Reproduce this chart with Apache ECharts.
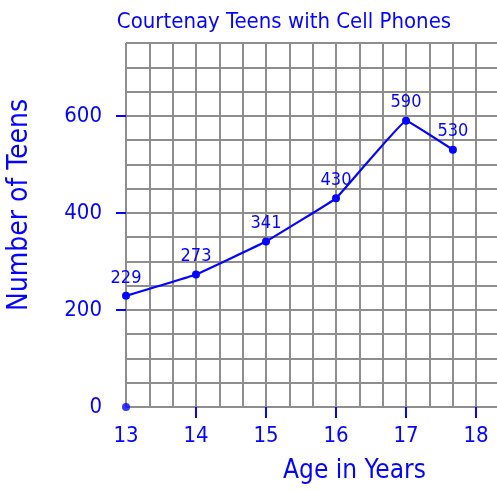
<!DOCTYPE html>
<html><head><meta charset="utf-8">
<script src="https://cdn.jsdelivr.net/npm/echarts@6/dist/echarts.min.js"></script>
<style>html,body{margin:0;padding:0;background:#fff}#c{width:497px;height:490px}</style>
</head><body><div id="c"></div>
<script>
const ages = [13, 14, 15, 16, 17, 17.67];
const teens = [229, 273, 341, 430, 590, 530];
const originPoint = [[13, 0]];
const xTickLabels = [13, 14, 15, 16, 17, 18];
const yTickLabels = [0, 200, 400, 600];

const BLUE = '#0505ff';
const GRIDC = '#8e8e8e';
const FONT = '"Liberation Sans Narrow", "DejaVu Sans Condensed", "DejaVu Sans"';
const XMAX = 18.3;
const chart = echarts.init(document.getElementById('c'));
chart.setOption({
  animation: false,
  backgroundColor: '#fff',
  title: {
    text: 'Courtenay Teens with Cell Phones',
    left: 279, top: 6, textAlign: 'center',
    textStyle: { color: BLUE, fontFamily: FONT, fontWeight: 'normal', fontSize: 22 }
  },
  grid: { left: 126, top: 43, right: 0, bottom: 83, containLabel: false, show: false,
    outerBoundsMode: 'none' },
  xAxis: [{
    type: 'value', min: 13, max: XMAX, interval: 1,
    name: 'Age in Years', nameLocation: 'middle', nameGap: 51,
    nameTextStyle: { color: BLUE, fontFamily: FONT, fontSize: 26, padding: [0, 0, 0, 86] },
    axisLine: { show: false },
    axisTick: { show: true, customValues: xTickLabels.slice(1), length: 11,
      lineStyle: { color: BLUE, width: 2 } },
    axisLabel: { customValues: xTickLabels, margin: 18, color: BLUE, fontFamily: FONT, fontSize: 22 },
    splitLine: { show: false }
  }, {
    type: 'value', min: 13, max: XMAX, interval: 1 / 3, position: 'bottom',
    axisLine: { show: false }, axisTick: { show: false }, axisLabel: { show: false },
    splitLine: { show: true, showMinLine: true, showMaxLine: false, lineStyle: { color: GRIDC, width: 2 } }
  }],
  yAxis: [{
    type: 'value', min: 0, max: 750, interval: 50,
    name: 'Number of Teens', nameLocation: 'middle', nameGap: 92, nameRotate: 90,
    nameTextStyle: { color: BLUE, fontFamily: FONT, fontSize: 28, padding: [0, 0, 0, 40] },
    axisLine: { show: false },
    axisTick: { show: true, customValues: yTickLabels.slice(1), length: 10,
      lineStyle: { color: BLUE, width: 2 } },
    axisLabel: { customValues: yTickLabels, margin: 24, color: BLUE, fontFamily: FONT, fontSize: 22 },
    splitLine: { show: false }
  }, {
    type: 'value', min: 0, max: 750, interval: 50, position: 'left',
    axisLine: { show: false }, axisTick: { show: false }, axisLabel: { show: false },
    splitLine: { show: true, showMinLine: true, showMaxLine: true, lineStyle: { color: GRIDC, width: 2 } }
  }],
  series: [{
    type: 'line',
    data: ages.map((a, i) => [a, teens[i]]),
    smooth: 0.05,
    symbol: 'circle', symbolSize: 8,
    lineStyle: { color: BLUE, width: 2.2 },
    itemStyle: { color: BLUE },
    label: { show: true, position: 'top', distance: 5, color: BLUE, fontFamily: FONT, fontSize: 18,
      formatter: p => String(p.value[1]) }
  }, {
    type: 'scatter', data: originPoint, symbolSize: 8,
    itemStyle: { color: BLUE }
  }]
});
</script></body></html>
